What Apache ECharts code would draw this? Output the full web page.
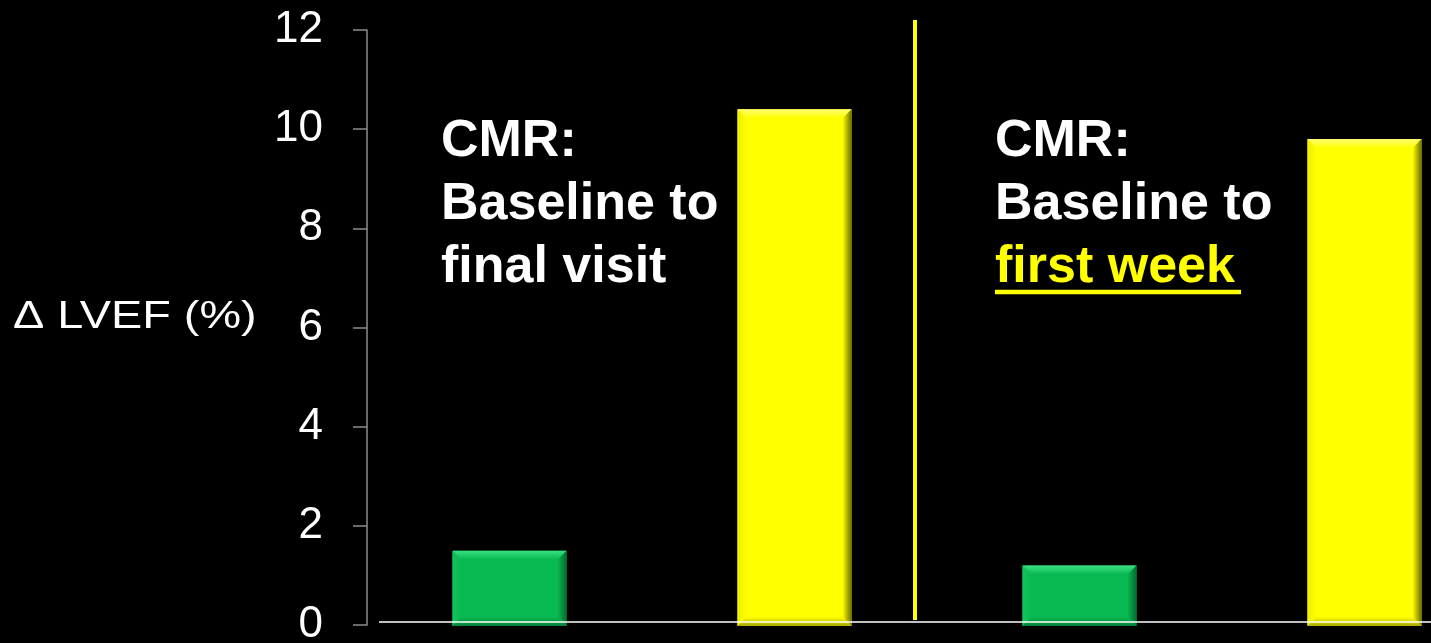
<!DOCTYPE html>
<html>
<head>
<meta charset="utf-8">
<script src="https://cdn.jsdelivr.net/npm/echarts@6/dist/echarts.min.js"></script>
<style>
  html, body { margin: 0; padding: 0; background: #000; }
  #chart { width: 1431px; height: 643px; }
</style>
</head>
<body>
<div id="chart"></div>
<script>
// Change in LVEF (%) by group, for two CMR comparison windows
const categories = ['Final visit A', 'Final visit B', 'First week A', 'First week B'];
const deltaLVEF = [1.5, 10.4, 1.2, 9.8];
const barKinds = ['green', 'yellow', 'green', 'yellow'];
const yTicks = { min: 0, max: 12, interval: 2 };
const axisTitle = '\u0394 LVEF (%)';
const panelNotes = [
  ['CMR:', 'Baseline to', 'final visit'],
  ['CMR:', 'Baseline to', 'first week']
];

const palette = {
  green:  { top: '#3ae284', left: '#14c35c', main: '#08b851', right: '#046c2f', bottom: '#05803a' },
  yellow: { top: '#ffff70', left: '#eeee00', main: '#ffff00', right: '#6e6e00', bottom: '#a8a800' }
};

const fontFamily = '"Liberation Sans", Arial, sans-serif';
const noteFont = 'bold 52px ' + fontFamily;

// Bar with a bevelled rim, positioned through the axes' own scales
function renderBevelBar(params, api) {
  const c = palette[barKinds[params.dataIndex]];
  const topPt = api.coord([api.value(0), api.value(1)]);
  const basePt = api.coord([api.value(0), 0]);
  const w = api.size([1, 0])[0] * 0.4;
  const l = topPt[0] - w / 2, r = l + w;
  const t = topPt[1], b = basePt[1] + 1;
  const d = Math.min(9, (b - t) / 2);
  const grad = (x1, y1, x2, y2, from, to) =>
    new echarts.graphic.LinearGradient(x1, y1, x2, y2, [
      { offset: 0, color: from }, { offset: 1, color: to }
    ]);
  return {
    type: 'group',
    children: [
      { type: 'rect', shape: { x: l, y: t, width: w, height: b - t }, style: { fill: c.main } },
      { type: 'polygon', shape: { points: [[l, t], [r, t], [r - d, t + d], [l + d, t + d]] },
        style: { fill: grad(0, 0, 0, 1, c.top, c.main) } },
      { type: 'polygon', shape: { points: [[l, t], [l + d, t + d], [l + d, b - d], [l, b]] },
        style: { fill: grad(0, 0, 1, 0, c.left, c.main) } },
      { type: 'polygon', shape: { points: [[r, t], [r, b], [r - d, b - d], [r - d, t + d]] },
        style: { fill: grad(0, 0, 1, 0, c.main, c.right) } },
      { type: 'polygon', shape: { points: [[l, b], [r, b], [r - d, b - d], [l + d, b - d]] },
        style: { fill: grad(0, 0, 0, 1, c.main, c.bottom) } }
    ]
  };
}

const chart = echarts.init(document.getElementById('chart'));

chart.setOption({
  backgroundColor: '#000',
  animation: false,
  grid: { left: 367, top: 30, width: 1140, height: 595, outerBoundsMode: 'none', containLabel: false },
  xAxis: {
    type: 'category',
    data: categories,
    axisLine: { show: false },
    axisTick: { show: false },
    axisLabel: { show: false }
  },
  yAxis: {
    type: 'value',
    min: yTicks.min,
    max: yTicks.max,
    interval: yTicks.interval,
    splitLine: { show: false },
    axisLine: { show: true, lineStyle: { color: '#8c8c8c', width: 1.5 } },
    axisTick: { show: true, inside: false, length: 14, lineStyle: { color: '#8c8c8c', width: 1.5 } },
    axisLabel: { color: '#fff', fontSize: 44, margin: 44, fontFamily: fontFamily }
  },
  series: [{
    type: 'custom',
    renderItem: renderBevelBar,
    encode: { x: 0, y: 1 },
    data: deltaLVEF.map((v, i) => [i, v])
  }],
  graphic: [
    // axis title (drawn slightly widened)
    { type: 'text', x: 13, y: 317, scaleX: 1.2,
      style: { text: axisTitle, font: '39px ' + fontFamily, fill: '#fff',
               verticalAlign: 'middle' } },
    // baseline
    { type: 'line', shape: { x1: 379, y1: 622, x2: 1431, y2: 622 },
      style: { stroke: '#ffffff', lineWidth: 1.5 }, z: 10 },
    // divider between the two comparison windows
    { type: 'line', shape: { x1: 915, y1: 20, x2: 915, y2: 620 },
      style: { stroke: '#ffff00', lineWidth: 4 } },
    { type: 'text', left: 441, top: 110,
      style: { text: panelNotes[0].join('\n'), font: noteFont, fill: '#fff', lineHeight: 63 } },
    { type: 'text', left: 995, top: 110,
      style: { text: panelNotes[1].slice(0, 2).join('\n'), font: noteFont, fill: '#fff', lineHeight: 63 } },
    { type: 'text', left: 995, top: 236,
      style: { text: panelNotes[1][2], font: noteFont, fill: '#ffff00', lineHeight: 63 } },
    // underline under the highlighted window
    { type: 'line', shape: { x1: 995, y1: 292, x2: 1241, y2: 292 },
      style: { stroke: '#ffff00', lineWidth: 4.5 } }
  ]
});
</script>
</body>
</html>
